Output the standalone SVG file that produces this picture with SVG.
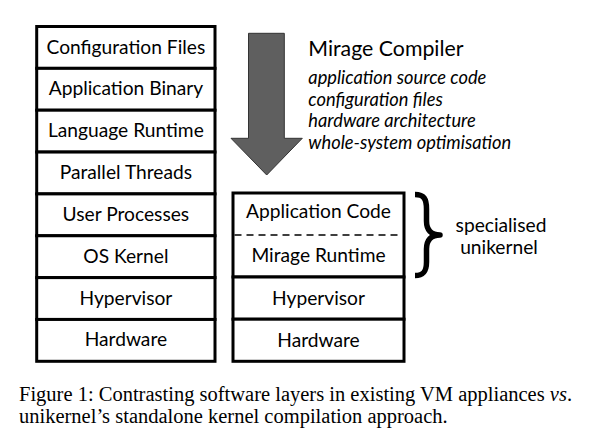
<svg xmlns="http://www.w3.org/2000/svg" width="590" height="444" viewBox="0 0 590 444">
<style>
.box{fill:#fff;stroke:#000;stroke-width:3}
.lbl{font-family:Lato,"Open Sans","DejaVu Sans",sans-serif;font-size:19.2px;fill:#000;text-anchor:middle}
.it{font-family:Lato,"Open Sans","DejaVu Sans",sans-serif;font-size:18.3px;font-style:italic;fill:#000}
.cap{font-family:"Liberation Serif","Times New Roman",serif;font-size:20.5px;fill:#000}
</style>
<rect width="590" height="444" fill="#fff"/>
<g id="left-stack">
<g id="n-config"><rect class="box" x="36.7" y="26.5" width="178.3" height="41.85"/><text class="lbl" x="125.9" y="53.5">Configuration Files</text></g>
<g id="n-appbin"><rect class="box" x="36.7" y="68.35" width="178.3" height="41.85"/><text class="lbl" x="125.9" y="95.3">Application Binary</text></g>
<g id="n-langrt"><rect class="box" x="36.7" y="110.2" width="178.3" height="41.85"/><text class="lbl" x="125.9" y="137.1">Language Runtime</text></g>
<g id="n-threads"><rect class="box" x="36.7" y="152.05" width="178.3" height="41.85"/><text class="lbl" x="125.9" y="179">Parallel Threads</text></g>
<g id="n-userproc"><rect class="box" x="36.7" y="193.9" width="178.3" height="41.85"/><text class="lbl" x="125.9" y="220.8">User Processes</text></g>
<g id="n-oskernel"><rect class="box" x="36.7" y="235.75" width="178.3" height="41.85"/><text class="lbl" x="125.9" y="262.7">OS Kernel</text></g>
<g id="n-hyp-l"><rect class="box" x="36.7" y="277.6" width="178.3" height="41.85"/><text class="lbl" x="125.9" y="304.5">Hypervisor</text></g>
<g id="n-hw-l"><rect class="box" x="36.7" y="319.45" width="178.3" height="41.85"/><text class="lbl" x="125.9" y="346.4">Hardware</text></g>
</g>
<g id="right-stack">
<g id="n-unikernel"><rect class="box" x="233" y="193" width="171" height="84"/>
<line x1="234.5" y1="235" x2="402.5" y2="235" stroke="#000" stroke-width="1.5" stroke-dasharray="7,5"/>
<text class="lbl" x="318.5" y="217.5">Application Code</text>
<text class="lbl" x="318.5" y="262">Mirage Runtime</text></g>
<g id="n-hyp-r"><rect class="box" x="233" y="277" width="171" height="42.2"/><text class="lbl" x="318.5" y="304.5">Hypervisor</text></g>
<g id="n-hw-r"><rect class="box" x="233" y="319.2" width="171" height="42.1"/><text class="lbl" x="318.5" y="346.5">Hardware</text></g>
</g>
<g id="compiler-text">
<text x="308.3" y="55.5" font-family="Lato,'Open Sans','DejaVu Sans',sans-serif" font-size="21.3" fill="#000">Mirage Compiler</text>
<text class="it" x="308.3" y="84">application source code</text>
<text class="it" x="308.3" y="105.7">configuration files</text>
<text class="it" x="308.3" y="127.3">hardware architecture</text>
<text class="it" x="308.3" y="149">whole-system optimisation</text>
</g>
<g id="unikernel-label">
<text class="lbl" x="501" y="232" font-size="22">specialised</text>
<text class="lbl" x="499" y="254" font-size="22">unikernel</text>
</g>
<g id="connectors">
<polygon points="248.5,33.3 284.3,33.3 284.3,138.3 302.3,138.3 266.7,175 231,138.3 248.5,138.3" fill="#5f5f5f" stroke="#333" stroke-width="1"/>
<path d="M415 194.5 C424 194.5 426.5 199 426.5 209 L426.5 221 C426.5 230 431 235 440 235 C431 235 426.5 240 426.5 249 L426.5 262 C426.5 271 424 275.5 415 275.5" fill="none" stroke="#000" stroke-width="5.5" stroke-linejoin="round"/>
</g>
<g id="caption">
<text class="cap" x="19" y="401">Figure 1: Contrasting software layers in existing VM appliances <tspan font-style="italic">vs</tspan>.</text>
<text class="cap" x="19" y="423">unikernel’s standalone kernel compilation approach.</text>
</g>
</svg>
